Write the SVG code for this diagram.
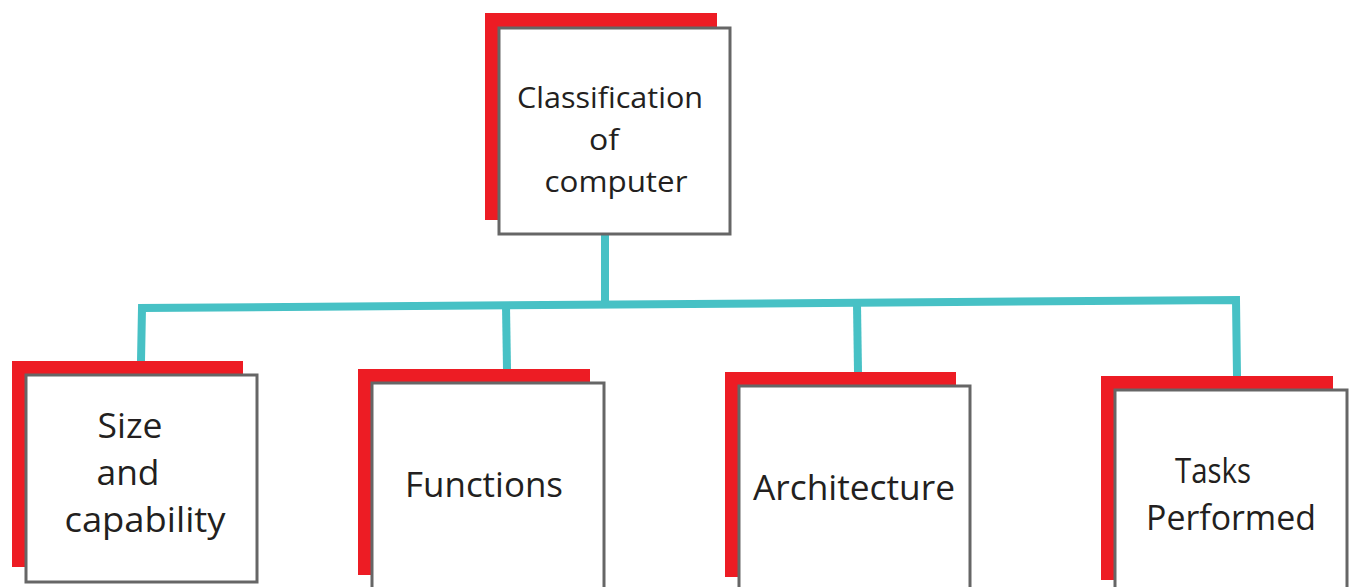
<svg xmlns="http://www.w3.org/2000/svg" width="1352" height="587" viewBox="0 0 1352 587">
<style>
.shadow{fill:#ed1c24}
.box{fill:#fff;stroke:#666;stroke-width:3}
.conn{fill:none;stroke:#47c1c5;stroke-width:8;stroke-linecap:butt;stroke-linejoin:miter}
.t{font-family:"Open Sans","Noto Sans",sans-serif;font-size:35px;fill:#231f20;text-anchor:middle}
.r{font-size:30px}
</style>
<rect width="1352" height="587" fill="#fff"/>
<g id="connectors">
<path class="conn" d="M605,234 L605,305"/>
<path class="conn" d="M141,361 L142,308 L1236,300 L1237,376"/>
<path class="conn" d="M506,306 L507,369"/>
<path class="conn" d="M857,304 L858,372"/>
</g>
<g id="root">
<rect class="shadow" x="485" y="13" width="232" height="207"/>
<rect class="box" x="499" y="28" width="231" height="206"/>
<text class="t r" x="610" y="108" textLength="186" lengthAdjust="spacingAndGlyphs">Classification</text>
<text class="t r" x="604" y="150" textLength="30" lengthAdjust="spacingAndGlyphs">of</text>
<text class="t r" x="616" y="192" textLength="143" lengthAdjust="spacingAndGlyphs">computer</text>
</g>
<g id="size">
<rect class="shadow" x="12" y="361" width="231" height="206"/>
<rect class="box" x="26" y="375" width="231" height="207"/>
<text class="t" x="130" y="438" textLength="65" lengthAdjust="spacingAndGlyphs">Size</text>
<text class="t" x="128" y="485" textLength="63" lengthAdjust="spacingAndGlyphs">and</text>
<text class="t" x="145" y="532" textLength="161" lengthAdjust="spacingAndGlyphs">capability</text>
</g>
<g id="functions">
<rect class="shadow" x="358" y="369" width="232" height="206"/>
<rect class="box" x="372" y="383" width="232" height="210"/>
<text class="t" x="484" y="497" textLength="158" lengthAdjust="spacingAndGlyphs">Functions</text>
</g>
<g id="architecture">
<rect class="shadow" x="725" y="372" width="231" height="205"/>
<rect class="box" x="739" y="386" width="231" height="210"/>
<text class="t" x="854" y="500" textLength="202" lengthAdjust="spacingAndGlyphs">Architecture</text>
</g>
<g id="tasks">
<rect class="shadow" x="1101" y="376" width="232" height="204"/>
<rect class="box" x="1115" y="390" width="232" height="210"/>
<text class="t" x="1213" y="483" textLength="76" lengthAdjust="spacingAndGlyphs">Tasks</text>
<text class="t" x="1231" y="530" textLength="170" lengthAdjust="spacingAndGlyphs">Performed</text>
</g>
</svg>
